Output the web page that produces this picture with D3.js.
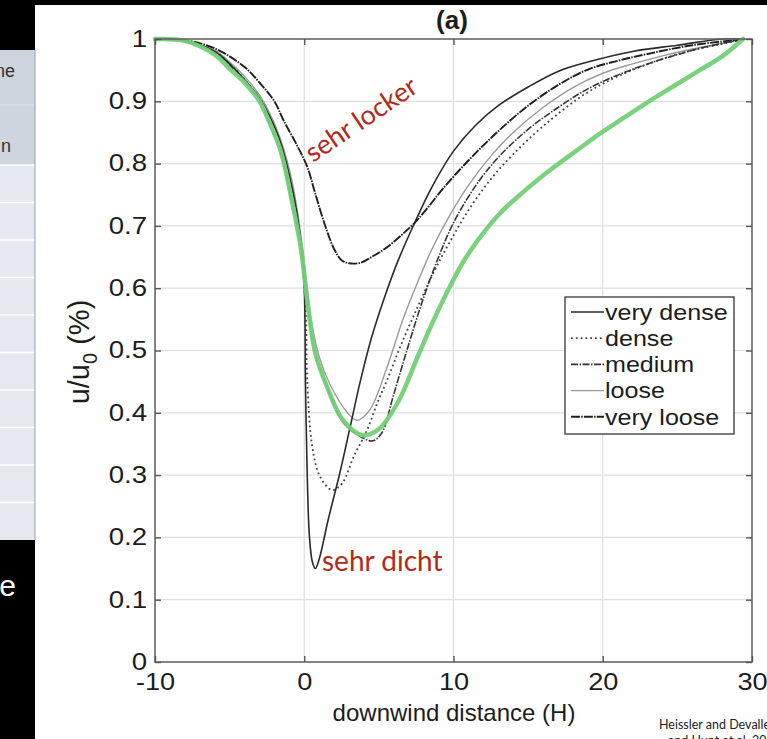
<!DOCTYPE html>
<html>
<head>
<meta charset="utf-8">
<script src="https://cdn.jsdelivr.net/npm/d3@7"></script>
<style>
body { margin: 0; background: white; }
svg { display: block; }
</style>
</head>
<body>
<div id="chart-container"></div>
<script>
// values: x = downwind distance (H), y = u/u0

xTicks = [-10, 0, 10, 20, 30];
xTickLabels = ["-10", "0", "10", "20", "30"];
yTicks = [0, 0.1, 0.2, 0.3, 0.4, 0.5, 0.6, 0.7, 0.8, 0.9, 1];
yTickLabels = ["0", "0.1", "0.2", "0.3", "0.4", "0.5", "0.6", "0.7", "0.8", "0.9", "1"];
legendLabels = ["very dense", "dense", "medium", "loose", "very loose"];

veryDense = [[-10,1.0],[-8,0.997],[-6,0.98],[-5,0.96],[-4,0.935],[-3,0.905],[-2.4,0.88],[-1.6,0.835],
    [-0.8,0.76],[-0.3,0.69],[0,0.6],[0.08,0.45],[0.2,0.3],[0.35,0.2],[0.55,0.16],[0.74,0.15],[1.0,0.165],
    [1.6,0.228],[2.4,0.305],[3.1,0.38],[3.75,0.45],[4.5,0.52],[5.3,0.58],[6.3,0.645],[7.4,0.705],
    [8.5,0.76],[10,0.82],[11.5,0.862],[13,0.893],[15,0.923],[17,0.948],[19,0.963],[22,0.98],[25,0.99],
    [28,1.0],[29.5,1.0]];

dense = [[-10,1.0],[-8,0.997],[-6,0.98],[-5,0.96],[-4,0.935],[-3,0.905],[-2.4,0.878],[-1.6,0.83],
    [-0.8,0.75],[-0.2,0.66],[0.1,0.56],[0.2,0.453],[0.54,0.345],[1.07,0.297],[1.88,0.276],[2.55,0.287],
    [3.3,0.329],[4.2,0.372],[4.9,0.416],[5.56,0.453],[6.5,0.51],[7.6,0.57],[8.6,0.622],[9.7,0.672],
    [11,0.725],[12.5,0.775],[14,0.815],[16,0.86],[18.7,0.91],[21,0.94],[24,0.968],[26,0.982],[28,0.992],
    [29.5,1.0]];

medium = [[-10,1.0],[-8,0.997],[-6,0.978],[-5,0.958],[-4,0.932],[-3,0.902],[-2.4,0.868],[-1.6,0.82],
    [-0.8,0.735],[-0.13,0.655],[0.2,0.578],[0.74,0.494],[1.54,0.44],[2.6,0.385],[3.9,0.36],[4.6,0.355],
    [5.2,0.368],[6.0,0.43],[7.0,0.51],[8.0,0.585],[9.0,0.65],[10,0.705],[11.5,0.765],[13,0.81],
    [15,0.855],[17,0.89],[19,0.92],[21,0.942],[23,0.96],[25,0.975],[27,0.988],[29.5,1.0]];

loose = [[-10,1.0],[-8,0.997],[-6,0.982],[-5,0.963],[-4,0.94],[-3,0.91],[-2.4,0.885],[-1.6,0.84],
    [-0.8,0.77],[-0.2,0.68],[0.2,0.6],[0.47,0.549],[1.0,0.49],[1.74,0.445],[2.9,0.4],[3.55,0.388],
    [4.4,0.405],[5.5,0.47],[6.6,0.549],[7.6,0.61],[8.6,0.665],[9.7,0.715],[11,0.765],[12.5,0.812],
    [14,0.85],[16,0.89],[18,0.922],[20,0.945],[22,0.96],[24,0.973],[26,0.984],[28,0.993],[29.5,1.0]];

veryLoose = [[-10,1.0],[-8,0.998],[-6,0.985],[-4,0.955],[-3,0.93],[-2,0.9],[-1.4,0.87],[-0.5,0.83],
    [0.2,0.795],[0.7,0.755],[1.27,0.71],[2.0,0.663],[2.5,0.645],[3,0.64],[3.8,0.641],[4.5,0.65],
    [5.5,0.665],[6.5,0.685],[7.4,0.705],[8.3,0.73],[9.2,0.757],[11,0.805],[13,0.852],[15,0.893],
    [17,0.926],[19,0.951],[21,0.965],[23,0.976],[26,0.99],[29.5,1.0]];

// green line drawn over the figure
highlight = [[-10,1.0],[-8,0.997],[-6,0.975],[-5,0.952],[-4,0.93],[-3,0.9],[-2.4,0.87],[-1.6,0.822],
    [-0.8,0.737],[-0.2,0.66],[0.2,0.58],[0.74,0.496],[1.54,0.441],[2.6,0.388],[3.9,0.364],[5.0,0.374],
    [6.3,0.418],[7.6,0.49],[8.6,0.545],[9.7,0.6],[10.6,0.64],[11.6,0.676],[13.1,0.72],[14.8,0.757],
    [16.5,0.79],[18.2,0.82],[19.8,0.848],[21.5,0.875],[23.1,0.9],[24.8,0.925],[26.5,0.95],[28,0.972],
    [29.4,1.0]];

seriesData = [veryDense, dense, medium, loose, veryLoose];

width = 767;
height = 739;

svg = d3.select("#chart-container")
    .append("svg")
    .attr("width", width)
    .attr("height", height)
    .style("background", "white");

// stretch text horizontally (the source picture is a bit wider than tall)
function stretch(sel, k) {
    sel.each(function () {
        var w = this.getComputedTextLength();
        d3.select(this)
            .attr("textLength", w * k)
            .attr("lengthAdjust", "spacingAndGlyphs");
    });
}

// slide behind the figure (left strip)

svg.append("rect").attr("x", 0).attr("y", 0).attr("width", width).attr("height", 5).attr("fill", "#000");
svg.append("rect").attr("x", 0).attr("y", 0).attr("width", 35).attr("height", 50).attr("fill", "#000");
svg.append("rect").attr("x", 0).attr("y", 50).attr("width", 35).attr("height", 115).attr("fill", "#cfd5df");
svg.append("rect").attr("x", 0).attr("y", 165).attr("width", 35).attr("height", 375).attr("fill", "#e5e8ee");
for (var i = 0; i < 10; i++) {
    svg.append("line")
        .attr("x1", 0).attr("x2", 35)
        .attr("y1", 165 + i * 37.5).attr("y2", 165 + i * 37.5)
        .attr("stroke", "white").attr("stroke-width", 1.5);
}
svg.append("line").attr("x1", 0).attr("x2", 35).attr("y1", 105).attr("y2", 105)
    .attr("stroke", "#e0e4ea").attr("stroke-width", 1);
svg.append("rect").attr("x", 0).attr("y", 540).attr("width", 35).attr("height", 199).attr("fill", "#000");
svg.append("line").attr("x1", 35).attr("x2", 35).attr("y1", 50).attr("y2", 540)
    .attr("stroke", "#9aa0aa").attr("stroke-width", 1);

svg.append("text").attr("x", 15).attr("y", 77).attr("text-anchor", "end")
    .style("font", "18px 'Liberation Sans', Arial, sans-serif").attr("fill", "#333").text("ne");
svg.append("text").attr("x", 11).attr("y", 152).attr("text-anchor", "end")
    .style("font", "18px 'Liberation Sans', Arial, sans-serif").attr("fill", "#333").text("n");
svg.append("text").attr("x", 16).attr("y", 596).attr("text-anchor", "end")
    .style("font", "30px 'Liberation Sans', Arial, sans-serif").attr("fill", "#fff").text("e");

// scales

x = d3.scaleLinear().domain([-10, 30]).range([155, 752]);
y = d3.scaleLinear().domain([0, 1]).range([662, 39]);

plot = svg.append("g").attr("id", "plot");

// grid

plot.append("g").selectAll("line")
    .data(xTicks.slice(1, -1))
    .join("line")
    .attr("x1", d => x(d)).attr("x2", d => x(d))
    .attr("y1", y(0)).attr("y2", y(1))
    .attr("stroke", "#dedede").attr("stroke-width", 1.2);

plot.append("g").selectAll("line")
    .data(yTicks.slice(1, -1))
    .join("line")
    .attr("x1", x(-10)).attr("x2", x(30))
    .attr("y1", d => y(d)).attr("y2", d => y(d))
    .attr("stroke", "#dedede").attr("stroke-width", 1.2);

// curves

lineStyles = [
    {stroke: "#2a2a2a", width: 1.6, dash: null},
    {stroke: "#444", width: 1.8, dash: "1.8,3"},
    {stroke: "#333", width: 1.6, dash: "7,1.5,1.5,1.5"},
    {stroke: "#9a9a9a", width: 1.4, dash: null},
    {stroke: "#1e1e1e", width: 1.9, dash: "9,1.2,1.5,1.2"}
];

line = d3.line()
    .x(d => x(d[0]))
    .y(d => y(d[1]))
    .curve(d3.curveCatmullRom.alpha(0.5));

drawOrder = [3, 1, 2, 0, 4];
drawOrder.forEach(i => {
    plot.append("path")
        .attr("d", line(seriesData[i]))
        .attr("fill", "none")
        .attr("stroke", lineStyles[i].stroke)
        .attr("stroke-width", lineStyles[i].width)
        .attr("stroke-dasharray", lineStyles[i].dash)
        .attr("stroke-linejoin", "round");
});

plot.append("path")
    .attr("d", line(highlight))
    .attr("fill", "none")
    .attr("stroke", "#74d077")
    .attr("stroke-width", 4.5)
    .attr("stroke-linecap", "round")
    .attr("opacity", 0.95);

// box and axes

plot.append("rect")
    .attr("x", x(-10)).attr("y", y(1))
    .attr("width", x(30) - x(-10)).attr("height", y(0) - y(1))
    .attr("fill", "none").attr("stroke", "#666").attr("stroke-width", 1.6);

tickFont = "23px 'Liberation Sans', Helvetica, Arial, sans-serif";

xAxis = plot.append("g")
    .attr("transform", `translate(0,${y(0)})`)
    .call(d3.axisBottom(x).tickValues(xTicks).tickSize(-6).tickPadding(12)
        .tickFormat((d, i) => xTickLabels[i]));
yAxis = plot.append("g")
    .attr("transform", `translate(${x(-10)},0)`)
    .call(d3.axisLeft(y).tickValues(yTicks).tickSize(-6).tickPadding(8)
        .tickFormat((d, i) => yTickLabels[i]));
plot.append("g")
    .attr("transform", `translate(${x(30)},0)`)
    .call(d3.axisRight(y).tickValues(yTicks).tickSize(-6).tickFormat(""));
plot.append("g")
    .attr("transform", `translate(0,${y(1)})`)
    .call(d3.axisTop(x).tickValues(xTicks).tickSize(-6).tickFormat(""));

plot.selectAll(".domain").remove();
plot.selectAll(".tick line").attr("stroke", "#555").attr("stroke-width", 1.4);
plot.selectAll(".tick text")
    .style("font", tickFont)
    .attr("fill", "#1c1c1c");
stretch(xAxis.selectAll(".tick text"), 1.18);
stretch(yAxis.selectAll(".tick text"), 1.2);

// axis labels and title

svg.append("text")
    .attr("x", 454).attr("y", 721)
    .attr("text-anchor", "middle")
    .style("font", "24px 'Liberation Sans', Helvetica, Arial, sans-serif")
    .attr("fill", "#1c1c1c")
    .text("downwind distance (H)");

yLabel = svg.append("text")
    .attr("transform", "translate(89,352) rotate(-90)")
    .attr("text-anchor", "middle")
    .style("font", "29px 'Liberation Sans', Helvetica, Arial, sans-serif")
    .attr("fill", "#1c1c1c");
yLabel.append("tspan").text("u/u");
yLabel.append("tspan").attr("dy", 8).style("font-size", "20px").text("0");
yLabel.append("tspan").attr("dy", -8).text(" (%)");

svg.append("text")
    .attr("x", 452).attr("y", 29)
    .attr("text-anchor", "middle")
    .style("font", "bold 26px 'Liberation Sans', Arial, sans-serif")
    .attr("fill", "#1c1c1c")
    .text("(a)");

// legend

legend = svg.append("g").attr("id", "legend");
legend.append("rect")
    .attr("x", 565).attr("y", 297).attr("width", 169).attr("height", 137)
    .attr("fill", "white").attr("stroke", "#444").attr("stroke-width", 1.4);

legendRow = legend.selectAll("g.row")
    .data(legendLabels)
    .join("g")
    .attr("class", "row")
    .attr("transform", (d, i) => `translate(0,${312 + i * 26.2})`);

legendRow.append("line")
    .attr("x1", 571).attr("x2", 604)
    .attr("stroke", (d, i) => lineStyles[i].stroke)
    .attr("stroke-width", (d, i) => lineStyles[i].width)
    .attr("stroke-dasharray", (d, i) => lineStyles[i].dash);

legendRow.append("text")
    .attr("x", 605).attr("dy", "0.35em")
    .style("font", "22px 'Liberation Sans', Helvetica, Arial, sans-serif")
    .attr("fill", "#1c1c1c")
    .text(d => d);
stretch(legendRow.selectAll("text"), 1.14);

// annotations

svg.append("text")
    .attr("transform", "translate(313,163) rotate(-34)")
    .style("font", "27px Lato, 'Open Sans', sans-serif")
    .attr("fill", "#b22a1a")
    .text("sehr locker");

svg.append("text")
    .attr("x", 322).attr("y", 571)
    .style("font", "28px Lato, 'Open Sans', sans-serif")
    .attr("fill", "#b22a1a")
    .text("sehr dicht");

svg.append("text")
    .attr("x", 659).attr("y", 729)
    .style("font", "12.5px Lato, 'Open Sans', sans-serif")
    .attr("fill", "#222")
    .text("Heissler and Devalle");
svg.append("text")
    .attr("x", 668).attr("y", 745)
    .style("font", "12.5px Lato, 'Open Sans', sans-serif")
    .attr("fill", "#222")
    .text("and Hunt et al. 2017");
</script>
</body>
</html>
